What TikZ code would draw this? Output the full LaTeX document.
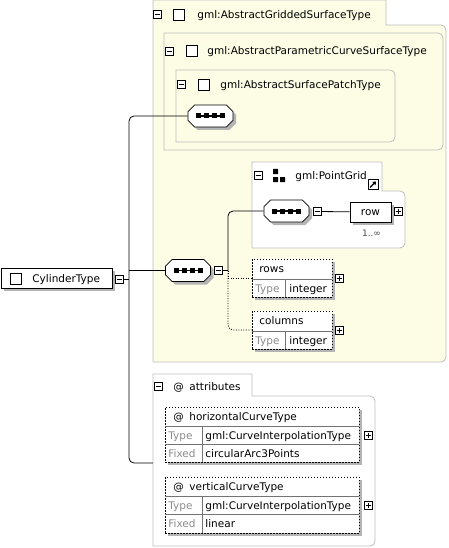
\documentclass[tikz,border=0pt]{standalone}
\usepackage{fontspec}
\setmainfont{DejaVu Sans}
\usetikzlibrary{shapes.misc,arrows.meta}
\definecolor{basefill}{RGB}{253,253,230}
\definecolor{framegrey}{RGB}{190,190,190}
\definecolor{shadowgrey}{RGB}{180,180,180}
\begin{document}
\begin{tikzpicture}[x=1pt,y=-1pt,line width=0.8pt,
    font=\fontsize{10.5}{12}\selectfont,
    frame/.style={draw=framegrey},
    shadowbox/.style={draw=none,fill=shadowgrey},
    lbl/.style={anchor=west,inner sep=0pt,text height=7.5pt,text depth=0pt},
    dim/.style={lbl,text=black!45},
    collapse/.style={draw,fill=white,minimum size=8pt,inner sep=0pt,line width=0.6pt,
        path picture={\draw ([xshift=1.5pt]path picture bounding box.west) -- ([xshift=-1.5pt]path picture bounding box.east);}},
    expand/.style={draw,fill=white,minimum size=8pt,inner sep=0pt,line width=0.6pt,
        path picture={\draw ([xshift=1.5pt]path picture bounding box.west) -- ([xshift=-1.5pt]path picture bounding box.east);
                      \draw ([yshift=-1.5pt]path picture bounding box.north) -- ([yshift=1.5pt]path picture bounding box.south);}},
    checkbox/.style={draw,fill=white,minimum size=11pt,inner sep=0pt,line width=0.6pt},
    seqnode/.style={chamfered rectangle,draw,fill=white,minimum width=45pt,minimum height=22pt},
    typebox/.style={draw,fill=white,line width=1pt,minimum height=20pt,inner sep=0pt},
    attrbox/.style={draw,fill=white,dash pattern=on 1.5pt off 1.5pt,inner sep=0pt},
    sep/.style={draw=black!55,line width=0.6pt},
    optional/.style={dash pattern=on 1pt off 1.5pt}]
\useasboundingbox (0,0) rectangle (448,548);

% base type frames
\draw[frame,fill=basefill] (153,362) -- (153,0) -- (386,0) -- (386,25) -- (387,25)
    [rounded corners=5pt] -- (446,25) -- (446,362) -- (200,362) [sharp corners] -- cycle;
\draw[frame,fill=basefill] (164,150) -- (164,33) -- (165,33)
    [rounded corners=5pt] -- (443,33) -- (443,150) -- (200,150) [sharp corners] -- cycle;
\draw[frame,fill=basefill] (176,142) -- (176,70) -- (177,70)
    [rounded corners=5pt] -- (395,70) -- (395,142) -- (200,142) [sharp corners] -- cycle;
\draw[frame,fill=white] (252,248) -- (252,162) -- (382,162) -- (382,191) -- (383,191)
    [rounded corners=5pt] -- (405,191) -- (405,248) -- (300,248) [sharp corners] -- cycle;
\draw[frame,fill=white] (153,546) -- (153,374) -- (252,374) -- (252,396) -- (253,396)
    [rounded corners=5pt] -- (375,396) -- (375,546) -- (200,546) [sharp corners] -- cycle;

% shadows of the boxes
\fill[shadowgrey] (4,271) rectangle (115,291);
\fill[shadowgrey] (353,205) rectangle (394,225);
\fill[shadowgrey] (255,262) rectangle (335,300);
\fill[shadowgrey] (255,314) rectangle (335,352);
\fill[shadowgrey] (168,410) rectangle (362,465);
\fill[shadowgrey] (168,480) rectangle (362,536);

\node[collapse] (gridm) at (157.5,14.5) {};
\node[checkbox] (gridc) at (179,14.5) {};
\node[lbl] (gridt) at (197,14.5) {gml:AbstractGriddedSurfaceType};
\node[collapse] (paramm) at (169.5,51) {};
\node[checkbox] (paramc) at (191.5,51) {};
\node[lbl] (paramt) at (207,50.5) {gml:AbstractParametricCurveSurfaceType};
\node[collapse] (patchm) at (181,84.5) {};
\node[checkbox] (patchc) at (203.5,85) {};
\node[lbl] (patcht) at (220,85) {gml:AbstractSurfacePatchType};
\node[collapse] (pointm) at (258,175) {};
\fill (273,169) rectangle (278,174) (273,177) rectangle (278,182) (280,177) rectangle (285,182);
\node[lbl] (pointt) at (295,175.5) {gml:PointGrid};
\node[draw,fill=white,minimum size=10pt,inner sep=0pt] (pointlink) at (373,184.5) {};
\draw[-{Triangle[length=3pt,width=4.5pt]},line width=1.3pt]
    ([shift={(-3pt,-3pt)}]pointlink.center) -- ([shift={(3pt,3pt)}]pointlink.center);
\node[collapse] (attrm) at (158.5,386.5) {};
\node[lbl] (attrat) at (173,386.5) {@};
\node[lbl] (attrt) at (189,386.5) {attributes};

% sequences
\node[seqnode,shadowbox] (seq1sh) at (213.5,119) {};
\node[seqnode] (seq1) at (210.5,116) {};
\node[seqnode,shadowbox] (seq2sh) at (191,273.5) {};
\node[seqnode] (seq2) at (188,270.5) {};
\node[collapse] (seq2m) at (218.5,270.5) {};
\node[seqnode,shadowbox] (seq3sh) at (289.5,214) {};
\node[seqnode] (seq3) at (286.5,211) {};
\node[collapse] (seq3m) at (317,211.5) {};
\foreach \s in {seq1,seq2,seq3} {
    \draw[line width=1.6pt] ([xshift=-13pt]\s.center) -- ([xshift=13pt]\s.center);
    \foreach \dx in {-12,-4,4,12}
        \fill ([xshift=\dx pt]\s.center) +(-2.5pt,-2.5pt) rectangle +(2.5pt,2.5pt);
}

% elements
\node[typebox,minimum width=111pt] (cyl) at (56.5,278) {};
\node[checkbox] (cylc) at (15.5,279) {};
\node[lbl] (cylt) at (32,278.5) {CylinderType};
\node[collapse] (cylm) at (119.5,279.5) {};
\node[typebox,minimum width=41pt,text height=7.5pt] (row) at (370.5,212) {row};
\node[expand] (rowp) at (398.5,211.5) {};
\node[anchor=center,font=\fontsize{9}{10}\selectfont,text=black!70] (rowocc) at (371.5,233) {1..∞};

\node[attrbox,minimum width=80pt,minimum height=38pt] (rows) at (292,278) {};
\draw[sep] (252,279) -- (332,279) (285,279) -- (285,297);
\node[lbl] (rowst) at (259,269) {rows};
\node[dim] (rowsk) at (255,288.5) {Type};
\node[lbl] (rowsv) at (289,288.5) {integer};
\node[expand] (rowsp) at (339,278) {};

\node[attrbox,minimum width=80pt,minimum height=38pt] (cols) at (292,330) {};
\draw[sep] (252,331) -- (332,331) (285,331) -- (285,349);
\node[lbl] (colst) at (259,321) {columns};
\node[dim] (colsk) at (255,340.5) {Type};
\node[lbl] (colsv) at (289,340.5) {integer};
\node[expand] (colsp) at (339,330.5) {};

% attributes
\node[attrbox,minimum width=194pt,minimum height=55pt] (hct) at (262,434.5) {};
\draw[sep] (165,426) -- (359,426) (165,444) -- (359,444) (202,426) -- (202,462);
\node[lbl] (hctat) at (173,416.5) {@};
\node[lbl] (hctt) at (189,416.5) {horizontalCurveType};
\node[dim] (hctk1) at (168,435.5) {Type};
\node[lbl] (hctv1) at (205,435.5) {gml:CurveInterpolationType};
\node[dim] (hctk2) at (168,453.5) {Fixed};
\node[lbl] (hctv2) at (205,453.5) {circularArc3Points};
\node[expand] (hctp) at (368.5,435) {};

\node[attrbox,minimum width=194pt,minimum height=56pt] (vct) at (262,505) {};
\draw[sep] (165,496) -- (359,496) (165,514) -- (359,514) (202,496) -- (202,533);
\node[lbl] (vctat) at (173,486.5) {@};
\node[lbl] (vctt) at (189,486.5) {verticalCurveType};
\node[dim] (vctk1) at (168,505.5) {Type};
\node[lbl] (vctv1) at (205,505.5) {gml:CurveInterpolationType};
\node[dim] (vctk2) at (168,524) {Fixed};
\node[lbl] (vctv2) at (205,524) {linear};
\node[expand] (vctp) at (368.5,505.5) {};

% connectors
\coordinate (trunk) at (129,279.5);
\coordinate (fork) at (228,270.5);
\coordinate (attrin) at (153,463);
\draw (cylm) -- (trunk);
\draw[rounded corners=5pt] (trunk) |- (seq1.west);
\draw[rounded corners=5pt] (trunk) |- (attrin);
\draw (seq2.west -| trunk) -- (seq2.west);
\draw (seq2m) -- (fork);
\draw[rounded corners=5pt] (fork) |- (seq3.west);
\draw (seq3m) -- (row);
\draw[optional] (fork) |- (rows.west);
\draw[optional,rounded corners=5pt] (fork) |- (cols.west);
\end{tikzpicture}
\end{document}
